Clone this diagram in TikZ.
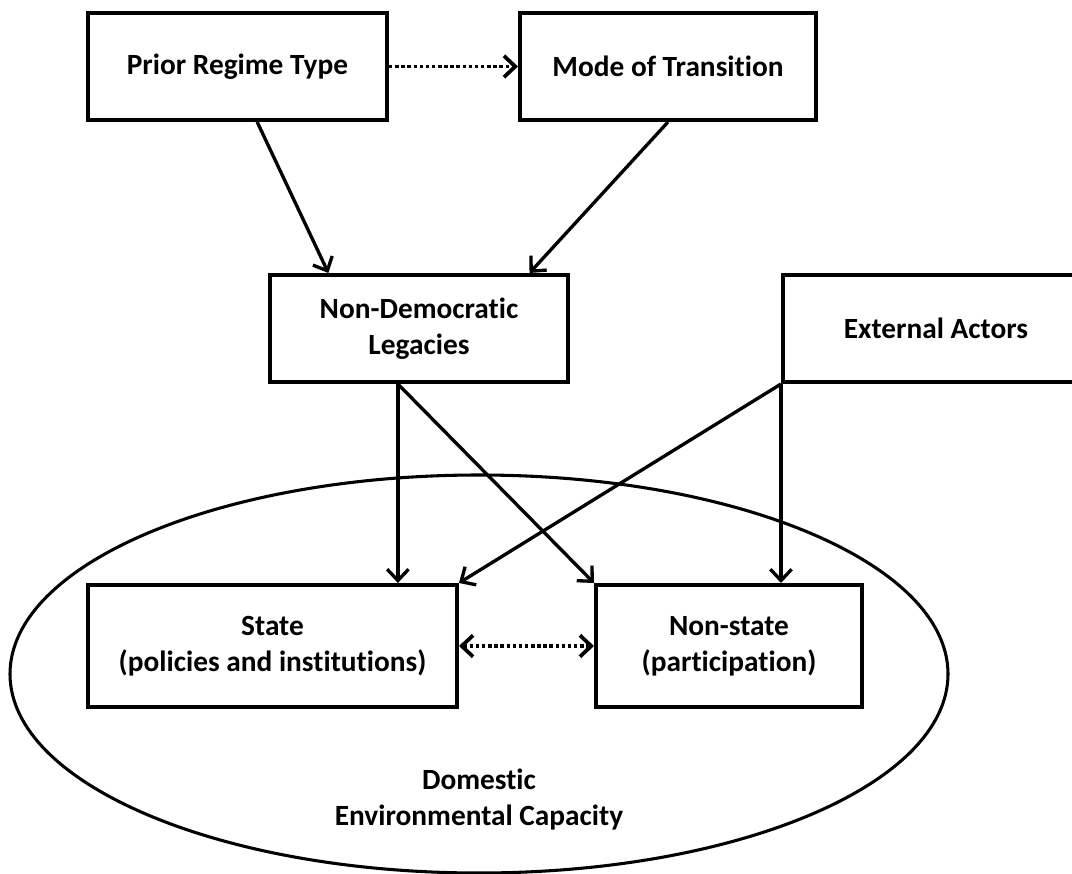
\documentclass[tikz,border=0pt]{standalone}
\usepackage{fontspec}
\setmainfont{Carlito}[Ligatures=NoCommon]
\usetikzlibrary{arrows.meta,calc,shapes.geometric}
\begin{document}
\begin{tikzpicture}[x=0.75pt,y=-0.75pt,
  box/.style={draw, line width=3pt, inner sep=0pt, align=center,
    font=\fontsize{22pt}{27pt}\selectfont\bfseries},
  arr/.style={line width=2.5pt, -{Straight Barb[length=8.5pt,width=16pt]}},
  dotarr/.style={arr, line width=2.8pt, dash pattern=on 2.6pt off 2pt},
  dotboth/.style={line width=2.8pt, dash pattern=on 2.6pt off 2pt,
    {Straight Barb[length=8.5pt,width=16pt]}-{Straight Barb[length=8.5pt,width=16pt]}},
  lbl/.style={align=center, font=\fontsize{22pt}{27pt}\selectfont\bfseries}]
\useasboundingbox (0,0) rectangle (1072,874);
\clip (0,0) rectangle (1072,874);
\fill[white] (0,0) rectangle (1072,874);
% ellipse
\node[ellipse, draw, line width=2.3pt, minimum width=703.5pt, minimum height=298.5pt, inner sep=0pt] (cap) at (479,674) {};
\node[lbl] (captext) at (479,800) {Domestic\\Environmental Capacity};
% boxes
\node[box, minimum width=224.25pt, minimum height=80.25pt] (prior) at (237.5,66.5) {Prior Regime Type};
\node[box, minimum width=222pt, minimum height=80.25pt] (mode) at (668,66.5) {Mode of Transition};
\node[box, minimum width=223.5pt, minimum height=80.25pt] (nondem) at (419,328.5) {Non-Democratic\\Legacies};
\node[box, minimum width=229.5pt, minimum height=80.25pt] (ext) at (936,328.5) {External Actors};
\node[box, minimum width=276.75pt, minimum height=91.5pt] (state) at (272.5,646) {State\\(policies and institutions)};
\node[box, minimum width=199.5pt, minimum height=91.5pt] (nonstate) at (729,646) {Non-state\\(participation)};
% anchor points
\coordinate (p1) at ($(prior.south west)!0.565!(prior.south east)$);
\coordinate (n1) at ($(nondem.north west)!0.2!(nondem.north east)$);
\coordinate (n2) at ($(nondem.north west)!0.866!(nondem.north east)$);
\coordinate (n3) at ($(nondem.south west)!0.43!(nondem.south east)$);
% connectors
\draw[dotarr] (prior.east) -- (mode.west);
\draw[arr] (p1) -- (n1);
\draw[arr] (mode.south) -- (n2);
\draw[arr] (n3) -- (n3 |- state.north);
\draw[arr] (n3) -- (nonstate.north west);
\draw[arr] (ext.south west) -- (state.north east);
\draw[arr] (ext.south west) -- (ext.south west |- nonstate.north);
\draw[dotboth] (state.east) -- (nonstate.west);
\end{tikzpicture}
\end{document}
